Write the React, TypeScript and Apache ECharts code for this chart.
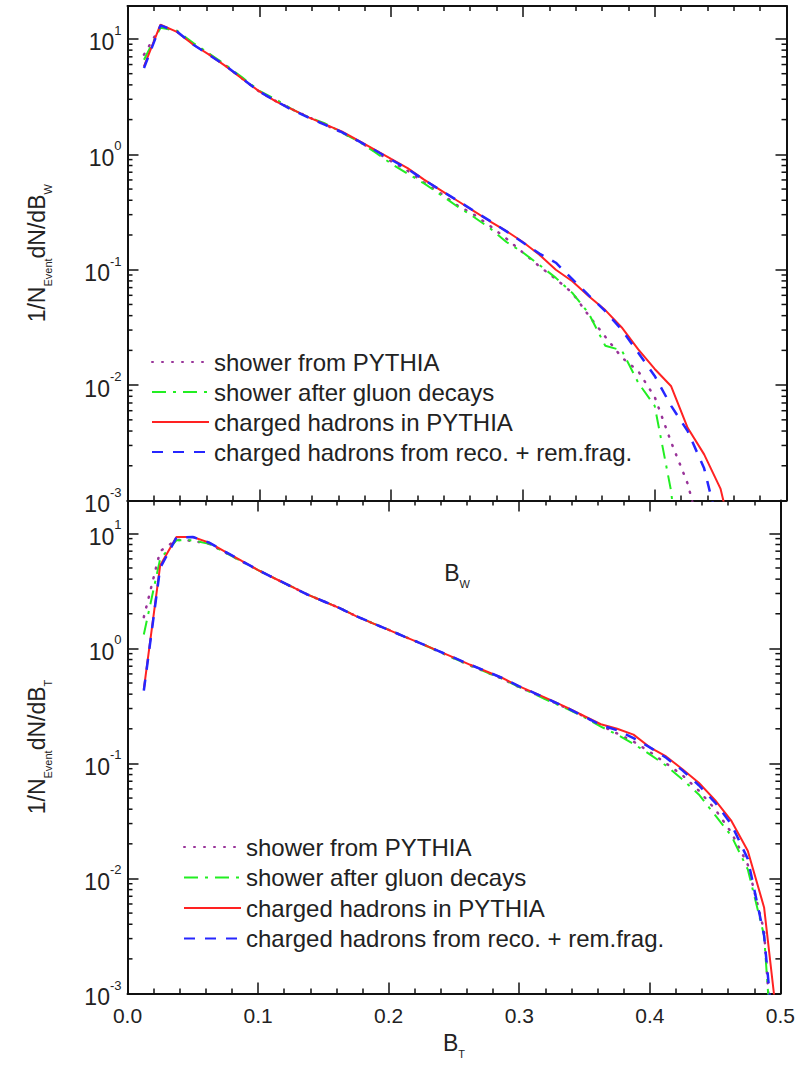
import React, { useEffect, useRef } from "react";
import * as echarts from "echarts";

// ---- data ----
const binCenters = [
  0.0125, 0.025, 0.0375, 0.05, 0.0625, 0.075, 0.0875, 0.1, 0.1125, 0.125,
  0.1375, 0.15, 0.1625, 0.175, 0.1875, 0.2, 0.2125, 0.225, 0.2375, 0.25,
  0.2625, 0.275, 0.2875, 0.3, 0.3125, 0.325, 0.3375, 0.35, 0.3625, 0.375,
  0.3875, 0.4, 0.4125, 0.425, 0.4375, 0.45, 0.4625, 0.475, 0.4875, 0.5,
];

const seriesNames = [
  "shower from PYTHIA",
  "shower after gluon decays",
  "charged hadrons in PYTHIA",
  "charged hadrons from reco. + rem.frag.",
];

// Top panel: B_W
const bwShower = [7.3, 12.8, 11.6, 9.0, 7.3, 5.8, 4.5, 3.5, 2.9, 2.45, 2.1, 1.80, 1.55, 1.30, 1.07, 0.87, 0.72, 0.57, 0.46, 0.363, 0.302, 0.240, 0.186, 0.141, 0.107, 0.083, 0.063, 0.040, 0.0263, 0.0174, 0.0132, 0.0079, 0.0032, 0.0014, 0.0004];
const bwGluon = [6.6, 12.5, 11.8, 9.2, 7.4, 5.9, 4.6, 3.55, 3.0, 2.45, 2.1, 1.85, 1.55, 1.30, 1.05, 0.83, 0.68, 0.56, 0.447, 0.355, 0.288, 0.229, 0.174, 0.141, 0.110, 0.085, 0.063, 0.0417, 0.0219, 0.0200, 0.0105, 0.0066, 0.0012, 0.00005];
const bwHadrons = [5.79, 13.3, 11.5, 8.91, 7.24, 5.75, 4.47, 3.51, 2.88, 2.45, 2.09, 1.82, 1.58, 1.32, 1.10, 0.912, 0.759, 0.603, 0.490, 0.398, 0.324, 0.263, 0.216, 0.174, 0.135, 0.100, 0.0794, 0.0589, 0.0447, 0.0316, 0.0204, 0.0138, 0.00977, 0.00427, 0.00251, 0.00126, 0.000316];
const bwReco = [5.6, 13.1, 11.6, 8.9, 7.2, 5.8, 4.5, 3.5, 2.9, 2.42, 2.08, 1.80, 1.56, 1.31, 1.09, 0.90, 0.75, 0.60, 0.49, 0.40, 0.325, 0.265, 0.215, 0.172, 0.138, 0.115, 0.083, 0.060, 0.0437, 0.0302, 0.0191, 0.0120, 0.0066, 0.0040, 0.0019, 0.0005];

// Bottom panel: B_T
const btShower = [1.87, 7.0, 8.8, 8.6, 8.1, 6.8, 5.7, 4.8, 4.07, 3.47, 2.95, 2.57, 2.24, 1.91, 1.66, 1.45, 1.26, 1.10, 0.95, 0.82, 0.71, 0.62, 0.54, 0.46, 0.40, 0.345, 0.298, 0.255, 0.214, 0.182, 0.155, 0.126, 0.100, 0.079, 0.058, 0.040, 0.025, 0.0132, 0.0035, 0.00003];
const btGluon = [1.32, 6.0, 8.7, 8.7, 8.1, 6.8, 5.7, 4.8, 4.07, 3.47, 2.95, 2.57, 2.24, 1.91, 1.66, 1.45, 1.26, 1.10, 0.95, 0.82, 0.71, 0.62, 0.54, 0.46, 0.397, 0.34, 0.295, 0.251, 0.209, 0.178, 0.148, 0.120, 0.0955, 0.0724, 0.0537, 0.0355, 0.0234, 0.0120, 0.0032, 0.00003];
const btHadrons = [0.44, 5.25, 9.3, 9.3, 8.3, 6.9, 5.75, 4.8, 4.07, 3.47, 2.95, 2.57, 2.24, 1.91, 1.66, 1.45, 1.26, 1.10, 0.955, 0.83, 0.72, 0.63, 0.55, 0.468, 0.407, 0.351, 0.302, 0.257, 0.219, 0.200, 0.178, 0.138, 0.115, 0.089, 0.068, 0.048, 0.0316, 0.0174, 0.0056, 0.00032];
const btReco = [0.43, 5.0, 9.2, 9.3, 8.3, 6.9, 5.75, 4.8, 4.07, 3.47, 2.95, 2.57, 2.24, 1.91, 1.66, 1.45, 1.26, 1.10, 0.955, 0.83, 0.72, 0.63, 0.55, 0.468, 0.405, 0.349, 0.300, 0.255, 0.216, 0.194, 0.166, 0.138, 0.112, 0.087, 0.0646, 0.0457, 0.0295, 0.0148, 0.0032, 0.0001];

const xTickLabels = ["0.0", "0.1", "0.2", "0.3", "0.4", "0.5"];

// ---- styling ----
const FONT = "Liberation Sans";
const TXT = "#222";
const AX = "#111";
const Y_MIN = 0.001;
const Y_MAX = 19.3;

const styles = [
  { color: "#993399", width: 2.5, type: [1, 9], cap: "round" },
  { color: "#22ee22", width: 2, type: [14, 7, 3, 7], cap: "butt" },
  { color: "#ff2222", width: 2, type: "solid", cap: "butt" },
  { color: "#2626ff", width: 2.5, type: [11, 10], cap: "butt" },
];

const pairs = (vals: number[]) => vals.map((v, i) => [binCenters[i], v]);

function powLabel(v: number) {
  const e = Math.log10(v);
  const r = Math.round(e);
  if (Math.abs(e - r) > 1e-6) return "";
  return `{b|10}{s|${r}}`;
}

const tickRich = {
  b: { fontSize: 23, fontFamily: FONT, color: TXT, lineHeight: 30, verticalAlign: "bottom" },
  s: { fontSize: 13, fontFamily: FONT, color: TXT, lineHeight: 13, verticalAlign: "top" },
};

const nameRich = {
  m: { fontSize: 23, fontFamily: FONT, color: TXT, lineHeight: 28, verticalAlign: "top" },
  s: { fontSize: 11, fontFamily: FONT, color: TXT, lineHeight: 28, verticalAlign: "bottom" },
};

const axisLine = { show: true, onZero: false, lineStyle: { color: AX, width: 2 } };
const axisTick = { show: true, inside: true, length: 11, lineStyle: { color: AX, width: 1.5 } };

function xAxisDef(gridIndex: number, position: string, showLabels: boolean, name?: string, nameGap?: number) {
  return {
    type: "value",
    gridIndex,
    position,
    min: 0,
    max: 0.5,
    interval: 0.1,
    axisLine,
    axisTick,
    minorTick: { show: true, splitNumber: 5, length: 5, lineStyle: { color: AX, width: 1.5 } },
    splitLine: { show: false },
    minorSplitLine: { show: false },
    axisLabel: {
      show: showLabels,
      margin: 11,
      fontSize: 21,
      fontFamily: FONT,
      color: TXT,
      formatter: (v: number) => xTickLabels[Math.round(v * 10)] ?? "",
    },
    name: name ?? "",
    nameLocation: "middle",
    nameGap: nameGap ?? 0,
    nameTextStyle: { rich: nameRich },
  };
}

function yAxisDef(gridIndex: number, position: string, showLabels: boolean, name?: string) {
  return {
    type: "log",
    logBase: 10,
    gridIndex,
    position,
    min: Y_MIN,
    max: Y_MAX,
    axisLine,
    axisTick,
    splitLine: { show: false },
    axisLabel: { show: showLabels, margin: 6, formatter: powLabel, rich: tickRich },
    name: name ?? "",
    nameLocation: "middle",
    nameGap: 74,
    nameTextStyle: { rich: nameRich },
  };
}

// minor tick positions (2..9 per decade) for the log axes
const minorVals: number[] = [];
for (let d = -3; d <= 1; d++) {
  for (let k = 2; k <= 9; k++) {
    const v = k * Math.pow(10, d);
    if (v < Y_MAX) minorVals.push(v);
  }
}

function minorTickSeries(xi: number, yi: number) {
  return {
    type: "custom",
    xAxisIndex: xi,
    yAxisIndex: yi,
    silent: true,
    z: 5,
    data: minorVals.map((v) => [0, v]),
    encode: { x: 0, y: 1 },
    renderItem: (_p: any, api: any) => {
      const v = api.value(1);
      const l = api.coord([0, v]);
      const r = api.coord([0.5, v]);
      return {
        type: "group",
        children: [
          { type: "line", shape: { x1: l[0], y1: l[1], x2: l[0] + 5, y2: l[1] }, style: { stroke: AX, lineWidth: 1.5 } },
          { type: "line", shape: { x1: r[0] - 5, y1: r[1], x2: r[0], y2: r[1] }, style: { stroke: AX, lineWidth: 1.5 } },
        ],
      };
    },
  };
}

function lineSeries(idx: number, vals: number[], xi: number, yi: number) {
  const s = styles[idx];
  return {
    type: "line",
    name: seriesNames[idx],
    xAxisIndex: xi,
    yAxisIndex: yi,
    data: pairs(vals),
    symbol: "none",
    showSymbol: false,
    clip: true,
    z: 2 + idx,
    lineStyle: { color: s.color, width: s.width, type: s.type, cap: s.cap },
    itemStyle: { color: s.color },
  };
}

const legendBase = {
  data: seriesNames,
  orient: "vertical",
  padding: 0,
  itemWidth: 57,
  itemHeight: 24,
  selectedMode: false,
  itemStyle: { opacity: 0 },
  textStyle: { fontFamily: FONT, fontSize: 24, color: TXT, lineHeight: 24 },
};

export default function App() {
  const ref = useRef<HTMLDivElement>(null);
  useEffect(() => {
    if (!ref.current) return;
    const chart = echarts.init(ref.current, undefined, { renderer: "svg" });
    const option: any = {
      animation: false,
      backgroundColor: "#fff",
      grid: [
        { left: 127.5, right: 11.5, top: 6, height: 494.5 },
        { left: 127.5, right: 11.5, top: 500.5, height: 493 },
      ],
      xAxis: [
        xAxisDef(0, "bottom", false, "{m|B}{s|W}", 61),
        xAxisDef(0, "top", false),
        xAxisDef(1, "bottom", true, "{m|B}{s|T}", 38),
        xAxisDef(1, "top", false),
      ],
      yAxis: [
        yAxisDef(0, "left", true, "{m|1/N}{s|Event}{m|dN/dB}{s|W}"),
        yAxisDef(0, "right", false),
        yAxisDef(1, "left", true, "{m|1/N}{s|Event}{m|dN/dB}{s|T}"),
        yAxisDef(1, "right", false),
      ],
      legend: [
        { ...legendBase, left: 151, top: 350, itemGap: 6 },
        { ...legendBase, left: 183, top: 835, itemGap: 6.5 },
      ],
      series: [
        lineSeries(0, bwShower, 0, 0),
        lineSeries(1, bwGluon, 0, 0),
        lineSeries(2, bwHadrons, 0, 0),
        lineSeries(3, bwReco, 0, 0),
        lineSeries(0, btShower, 2, 2),
        lineSeries(1, btGluon, 2, 2),
        lineSeries(2, btHadrons, 2, 2),
        lineSeries(3, btReco, 2, 2),
        minorTickSeries(0, 0),
        minorTickSeries(2, 2),
      ],
    };
    chart.setOption(option);
    return () => chart.dispose();
  }, []);
  return (
    <div
      ref={ref}
      style={{ position: "fixed", left: 0, top: 0, width: 798, height: 1070, background: "#fff" }}
    />
  );
}
